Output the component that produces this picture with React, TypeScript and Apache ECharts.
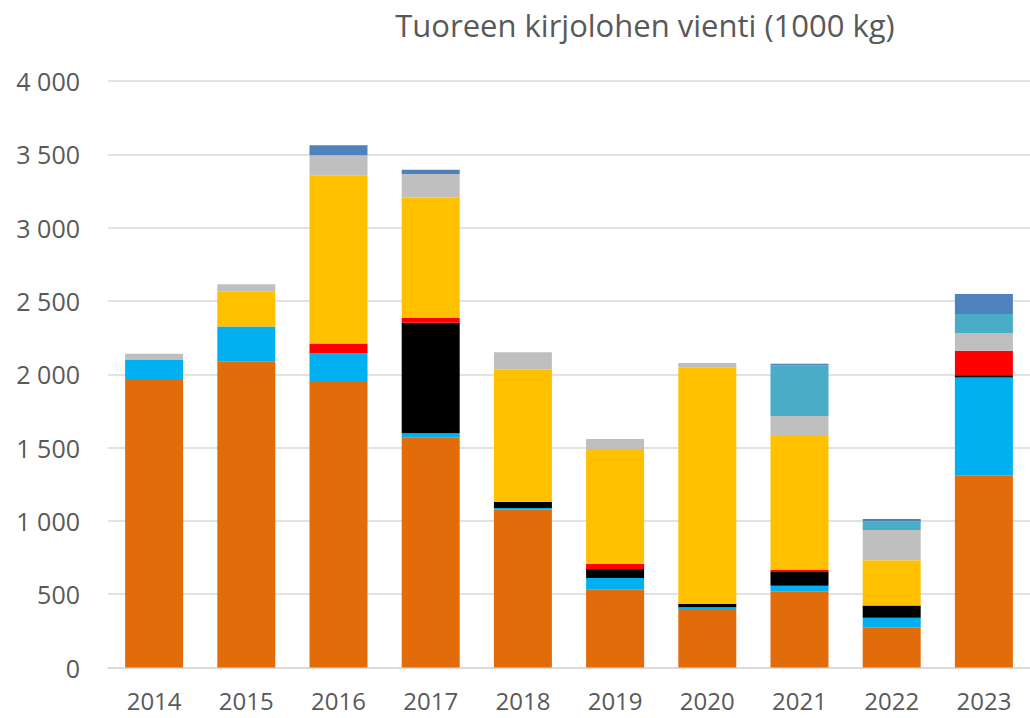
import React, { useEffect, useRef } from "react";
import * as echarts from "echarts";

const years = ["2014", "2015", "2016", "2017", "2018", "2019", "2020", "2021", "2022", "2023"];
const orange = [1968, 2089, 1954, 1570, 1079, 533, 399, 520, 274, 1311];
const cyan = [132, 236, 187, 28, 8, 77, 12, 38, 66, 666];
const black = [0, 0, 0, 754, 44, 62, 24, 93, 82, 16];
const red = [0, 0, 68, 32, 0, 34, 0, 16, 0, 168];
const yellow = [0, 241, 1148, 821, 901, 784, 1610, 912, 309, 0];
const gray = [39, 48, 137, 161, 118, 69, 32, 137, 207, 121];
const teal = [0, 0, 0, 0, 0, 0, 0, 343, 57, 129];
const steel = [0, 0, 68, 28, 0, 0, 0, 13, 18, 137];
const yTicks = [0, 500, 1000, 1500, 2000, 2500, 3000, 3500, 4000];

const seriesDefs = [
  { name: "orange", data: orange, color: "#E36C0A" },
  { name: "cyan", data: cyan, color: "#00B0F0" },
  { name: "black", data: black, color: "#000000" },
  { name: "red", data: red, color: "#FF0000" },
  { name: "yellow", data: yellow, color: "#FFC000" },
  { name: "gray", data: gray, color: "#BFBFBF" },
  { name: "teal", data: teal, color: "#4BACC6" },
  { name: "steel", data: steel, color: "#4F81BD" },
];

function fmt(v: number): string {
  const s = String(v);
  return s.length > 3 ? s.slice(0, s.length - 3) + " " + s.slice(-3) : s;
}

export default function App() {
  const ref = useRef<HTMLDivElement>(null);
  useEffect(() => {
    document.body.style.margin = "0";
    const chart = echarts.init(ref.current!, null, { renderer: "svg" });
    chart.setOption({
      animation: false,
      backgroundColor: "#FFFFFF",
      title: {
        text: "Tuoreen kirjolohen vienti (1000 kg)",
        left: 640,
        top: 4,
        textAlign: "center",
        textStyle: {
          fontFamily: "Open Sans",
          fontSize: 31,
          fontWeight: "normal",
          color: "#595959",
        },
      },
      grid: { left: 108, top: 81, width: 927, height: 586.5 },
      xAxis: {
        type: "category",
        data: years,
        axisTick: { show: false },
        axisLine: { lineStyle: { color: "#D9D9D9", width: 1.5 } },
        axisLabel: {
          fontFamily: "Open Sans",
          fontSize: 24,
          lineHeight: 24,
          color: "#595959",
          margin: 21,
        },
      },
      yAxis: {
        type: "value",
        min: yTicks[0],
        max: yTicks[yTicks.length - 1],
        interval: 500,
        axisLine: { show: false },
        axisTick: { show: false },
        splitLine: { lineStyle: { color: "#D9D9D9", width: 1.5 } },
        axisLabel: {
          fontFamily: "Open Sans",
          fontSize: 25,
          color: "#595959",
          margin: 28,
          formatter: (v: number) => fmt(v),
        },
      },
      series: seriesDefs.map((s) => ({
        name: s.name,
        type: "bar",
        stack: "total",
        barWidth: 58,
        data: s.data,
        itemStyle: { color: s.color },
      })),
    });
    return () => chart.dispose();
  }, []);
  return (
    <div
      ref={ref}
      style={{ position: "absolute", left: 0, top: 0, width: 1030, height: 718 }}
    />
  );
}
